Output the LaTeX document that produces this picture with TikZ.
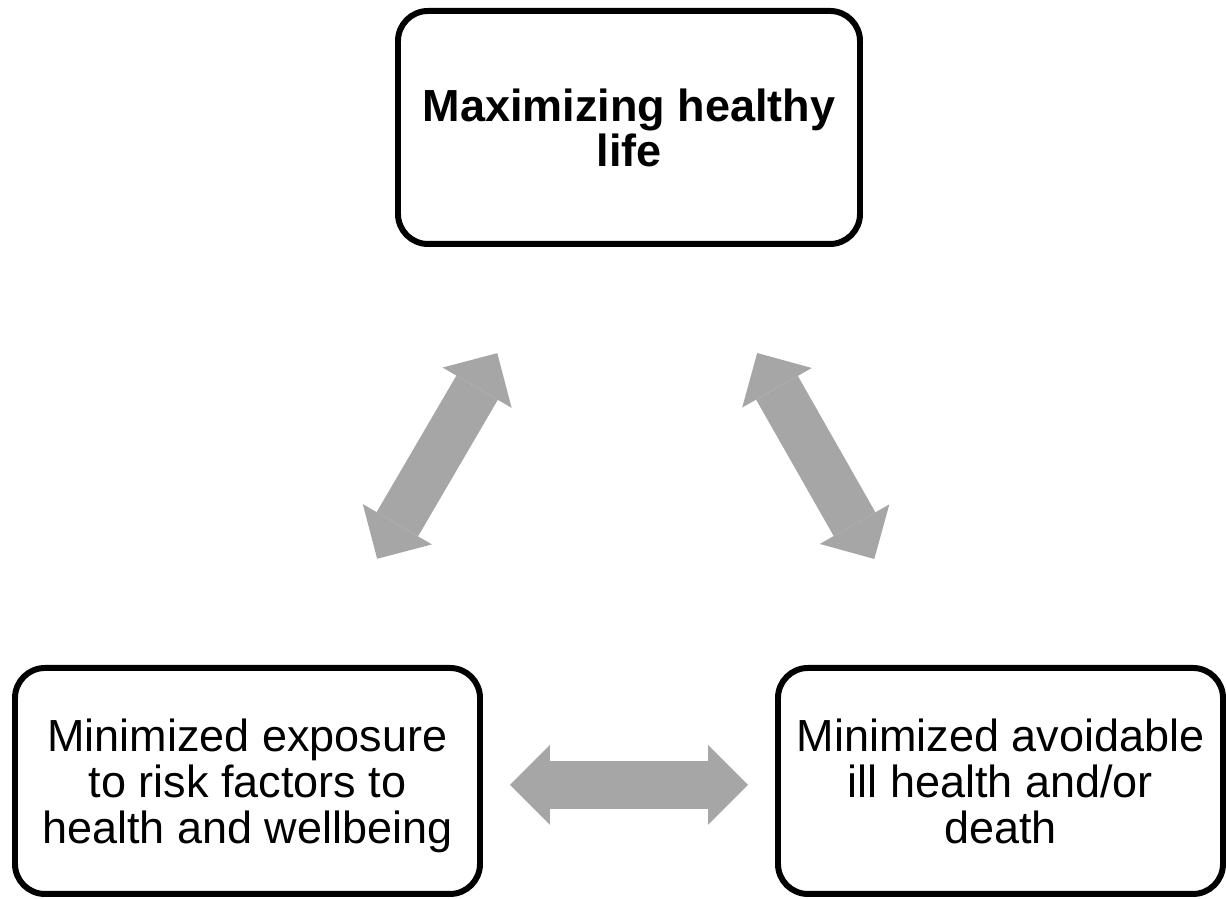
\documentclass[tikz,border=0pt]{standalone}
\usepackage{fontspec}
\setmainfont{Liberation Sans}
\usetikzlibrary{arrows.meta}
\definecolor{arrowgray}{RGB}{166,166,166}
\tikzset{
	goalbox/.style={draw=black, line width=1.7pt, rounded corners=0.3cm, align=center, inner sep=0pt, font=\fontsize{12.8}{13.1}\selectfont},
	linkarrow/.style={draw=arrowgray, line width=0.48cm, {Triangle[length=0.4cm, width=0.8cm, line width=0pt]}-{Triangle[length=0.4cm, width=0.8cm, line width=0pt]}}
}

\begin{document}
\begin{tikzpicture}
			%%%%% START %%%%%
			
			\useasboundingbox (0, 0) rectangle (12.26, 8.99);
			
			\node[goalbox, minimum width=4.62cm, minimum height=2.33cm, font=\fontsize{12.8}{12.8}\selectfont\bfseries] (healthylife) at (6.29, 7.715) {Maximizing healthy\\life};
			\node[goalbox, minimum width=4.65cm, minimum height=2.26cm, text depth=0pt] (exposure) at (2.475, 1.18) {Minimized exposure\\to risk factors to\\health and wellbeing};
			\node[goalbox, minimum width=4.45cm, minimum height=2.26cm] (illhealth) at (10.005, 1.18) {Minimized avoidable\\ill health and/or\\death};
			
			\draw[linkarrow, shorten <=1.23cm, shorten >=1.23cm] (healthylife) -- (exposure);
			\draw[linkarrow, shorten <=1.22cm, shorten >=1.22cm] (healthylife) -- (illhealth);
			\draw[linkarrow, shorten <=0.27cm, shorten >=0.27cm] ([yshift=-0.04cm]exposure.east) -- ([yshift=-0.04cm]illhealth.west);
			
			%%%%% END %%%%%
		\end{tikzpicture}
\end{document}
